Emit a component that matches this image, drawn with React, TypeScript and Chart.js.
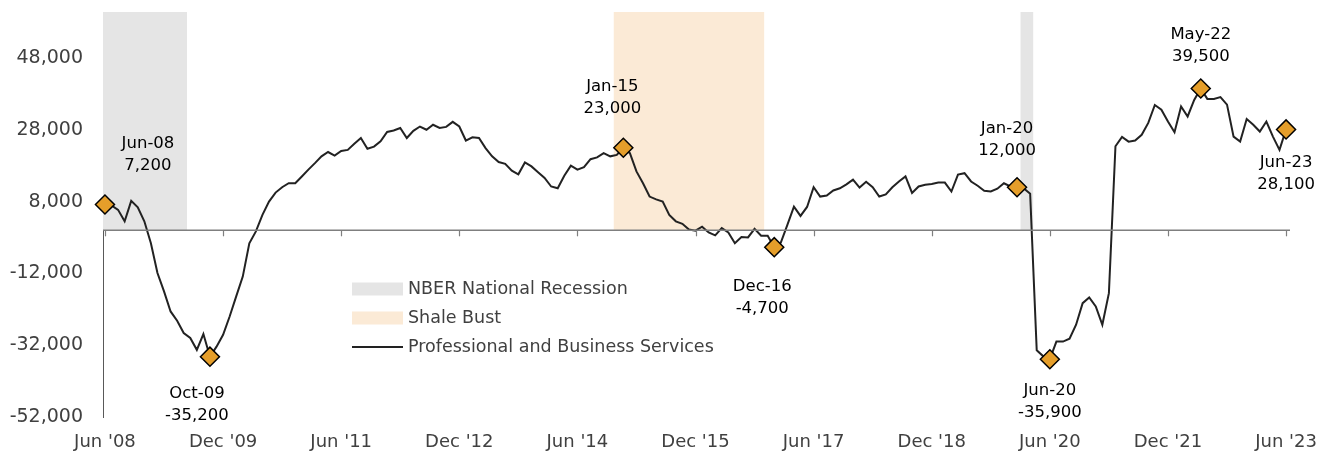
import { useEffect, useRef } from 'react';
import { Chart, registerables } from 'chart.js';
Chart.register(...registerables);

// Monthly over-the-year change, Jun 2008 .. Jun 2023 (index 0 = Jun-08)
const pbsChange: number[] = [
  7200, 6900, 5700, 2500, 8200, 6400, 2500, -3600, -11900, -17000,
  -22600, -25200, -28600, -30000, -33300, -28900, -35200, -32400, -29100, -24000,
  -18400, -12900, -3600, -300, 4300, 8000, 10500, 12000, 13100, 13100,
  15000, 16900, 18700, 20600, 21800, 20800, 22100, 22400, 24100, 25700,
  22700, 23300, 24800, 27400, 27800, 28500, 25700, 27700, 28900, 28000,
  29400, 28500, 28800, 30200, 28900, 25000, 25900, 25700, 22900, 20600,
  19000, 18500, 16600, 15600, 18900, 17800, 16200, 14600, 12200, 11700,
  15200, 18000, 16900, 17600, 19800, 20300, 21500, 20600, 21000, 23000,
  21500, 16400, 13100, 9400, 8600, 8000, 4300, 2500, 1800, 200,
  -100, 1000, -600, -1400, 600, -600, -3600, -1900, -2000, 400,
  -1500, -1500, -4700, -3400, 1500, 6600, 4000, 6500, 12000, 9400,
  9700, 11100, 11700, 12800, 14100, 11900, 13500, 12000, 9400, 10000,
  12000, 13600, 15000, 10400, 12200, 12700, 12900, 13300, 13300, 10800,
  15500, 15900, 13600, 12400, 11000, 10800, 11600, 13100, 12200, 12000,
  11700, 10200, -33400, -35100, -35900, -31000, -31000, -30200, -26300, -20300,
  -18700, -21200, -26300, -17500, 23400, 26000, 24700, 25000, 26600, 29900,
  34900, 33600, 30300, 27300, 34500, 31700, 36300, 39500, 36600, 36600,
  37100, 35000, 26100, 24700, 31000, 29400, 27500, 30300, 26100, 22400,
  28100,
];

const highlightIdx: number[] = [0, 16, 79, 102, 139, 144, 167, 180];
const highlightDate: string[] = ['Jun-08', 'Oct-09', 'Jan-15', 'Dec-16', 'Jan-20', 'Jun-20', 'May-22', 'Jun-23'];

const recessionStart: number[] = [0, 140];
const recessionEnd: number[] = [12, 141];
const shaleStart: number[] = [78];
const shaleEnd: number[] = [100];

const xTickLabels: string[] = ["Jun '08", "Dec '09", "Jun '11", "Dec '12", "Jun '14", "Dec '15", "Jun '17", "Dec '18", "Jun '20", "Dec '21", "Jun '23"];
const xTickStep = 18;
const yTicks: number[] = [-52000, -32000, -12000, 8000, 28000, 48000];

// label placement (pixels relative to marker): [dx, dy of first line]
const labelOffsets: number[][] = [[43, -61], [-13, 37], [-11, -61], [-12, 40], [-10, -58], [0, 32], [0, -54], [0, 33]];

const FONT = "'DejaVu Sans', sans-serif";
const Y_MIN = -52000;
const Y_MAX = 60800;

export default function App() {
  const ref = useRef<HTMLCanvasElement>(null);

  useEffect(() => {
    const canvas = ref.current;
    if (!canvas) return;

    const band = (s: number, e: number, color: string) => ({
      type: 'line' as const,
      data: [{ x: s - 0.5, y: Y_MAX }, { x: e + 0.5, y: Y_MAX }],
      fill: 'origin',
      backgroundColor: color,
      borderWidth: 0,
      pointRadius: 0,
      order: 5,
    });

    const bands: any[] = [];
    recessionStart.forEach((s, k) => bands.push(band(s, recessionEnd[k], '#E5E5E5')));
    shaleStart.forEach((s, k) => bands.push(band(s, shaleEnd[k], '#FBEAD6')));

    const overlay = {
      id: 'overlay',
      afterDatasetsDraw(chart: any) {
        const { ctx, chartArea, scales } = chart;
        const x = scales.x;
        const y = scales.y;
        const y0 = y.getPixelForValue(0);
        ctx.save();
        ctx.strokeStyle = '#7F7F7F';
        ctx.lineWidth = 1.5;
        ctx.beginPath();
        ctx.moveTo(chartArea.left, y0);
        ctx.lineTo(chartArea.right, y0);
        ctx.stroke();
        ctx.lineWidth = 1.2;
        xTickLabels.forEach((_, k) => {
          const px = Math.round(x.getPixelForValue(k * xTickStep)) + 0.5;
          ctx.beginPath();
          ctx.moveTo(px, y0);
          ctx.lineTo(px, y0 + 6);
          ctx.stroke();
        });
        ctx.restore();
      },
      afterDraw(chart: any) {
        const { ctx, scales } = chart;
        const x = scales.x;
        const y = scales.y;
        ctx.save();
        // annotations
        ctx.fillStyle = '#000000';
        ctx.font = `16.5px ${FONT}`;
        ctx.textAlign = 'center';
        ctx.textBaseline = 'middle';
        highlightIdx.forEach((idx, k) => {
          const px = x.getPixelForValue(idx);
          const py = y.getPixelForValue(pbsChange[idx]);
          const [dx, dy] = labelOffsets[k];
          ctx.fillText(highlightDate[k], px + dx, py + dy);
          ctx.fillText(pbsChange[idx].toLocaleString('en-US'), px + dx, py + dy + 22);
        });
        // legend
        const lx = 352;
        const rows = [289, 318, 347];
        ctx.fillStyle = '#E5E5E5';
        ctx.fillRect(lx, rows[0] - 6.5, 51, 13);
        ctx.fillStyle = '#FBEAD6';
        ctx.fillRect(lx, rows[1] - 6.5, 51, 13);
        ctx.strokeStyle = '#222222';
        ctx.lineWidth = 1.8;
        ctx.beginPath();
        ctx.moveTo(lx, rows[2]);
        ctx.lineTo(lx + 51, rows[2]);
        ctx.stroke();
        ctx.fillStyle = '#404040';
        ctx.font = `17.5px ${FONT}`;
        ctx.textAlign = 'left';
        ctx.fillText('NBER National Recession', lx + 56, rows[0]);
        ctx.fillText('Shale Bust', lx + 56, rows[1]);
        ctx.fillText('Professional and Business Services', lx + 56, rows[2]);
        ctx.restore();
      },
    };

    const chart = new Chart(canvas, {
      type: 'line',
      data: {
        datasets: [
          ...bands,
          {
            type: 'line',
            label: 'Professional and Business Services',
            data: pbsChange.map((v, i) => ({ x: i, y: v })),
            borderColor: '#222222',
            borderWidth: 2,
            pointRadius: 0,
            tension: 0,
            fill: false,
            order: 2,
          },
          {
            type: 'line',
            data: highlightIdx.map((i) => ({ x: i, y: pbsChange[i] })),
            showLine: false,
            pointStyle: 'rectRot',
            pointRadius: 9.5,
            pointBackgroundColor: '#E59E2A',
            pointBorderColor: '#000000',
            pointBorderWidth: 1.5,
            clip: false,
            order: 1,
          },
        ] as any,
      },
      options: {
        animation: false,
        responsive: false,
        events: [],
        layout: { padding: { top: 12, left: 0, right: 42, bottom: 0 } },
        plugins: { legend: { display: false }, tooltip: { enabled: false } },
        scales: {
          x: {
            type: 'linear',
            min: -0.3,
            max: 180.6,
            grid: { display: false, drawTicks: false },
            border: { display: false },
            afterBuildTicks: (s: any) => {
              s.ticks = xTickLabels.map((_, k) => ({ value: k * xTickStep }));
            },
            afterFit: (s: any) => {
              s.height = 40;
              s.paddingLeft = 0;
              s.paddingRight = 0;
            },
            ticks: {
              autoSkip: false,
              maxRotation: 0,
              padding: 15,
              color: '#404040',
              font: { family: FONT, size: 18 },
              callback: (v: any) => {
                const k = Math.round(Number(v) / xTickStep);
                return xTickLabels[k] ?? '';
              },
            },
          },
          y: {
            type: 'linear',
            min: Y_MIN,
            max: Y_MAX,
            grid: { display: false, drawTicks: false },
            border: { display: true, color: '#595959', width: 1 },
            afterBuildTicks: (s: any) => {
              s.ticks = yTicks.map((v) => ({ value: v }));
            },
            afterFit: (s: any) => {
              s.width = 103;
              s.paddingTop = 0;
              s.paddingBottom = 0;
            },
            ticks: {
              padding: 20,
              color: '#404040',
              font: { family: FONT, size: 19 },
              callback: (v: any) => Number(v).toLocaleString('en-US'),
            },
          },
        },
      },
      plugins: [overlay],
    });

    return () => chart.destroy();
  }, []);

  return (
    <div style={{ position: 'absolute', left: 0, top: 0, width: 1332, height: 457, background: '#ffffff' }}>
      <canvas ref={ref} width={1332} height={457} style={{ width: 1332, height: 457, display: 'block' }} />
    </div>
  );
}
